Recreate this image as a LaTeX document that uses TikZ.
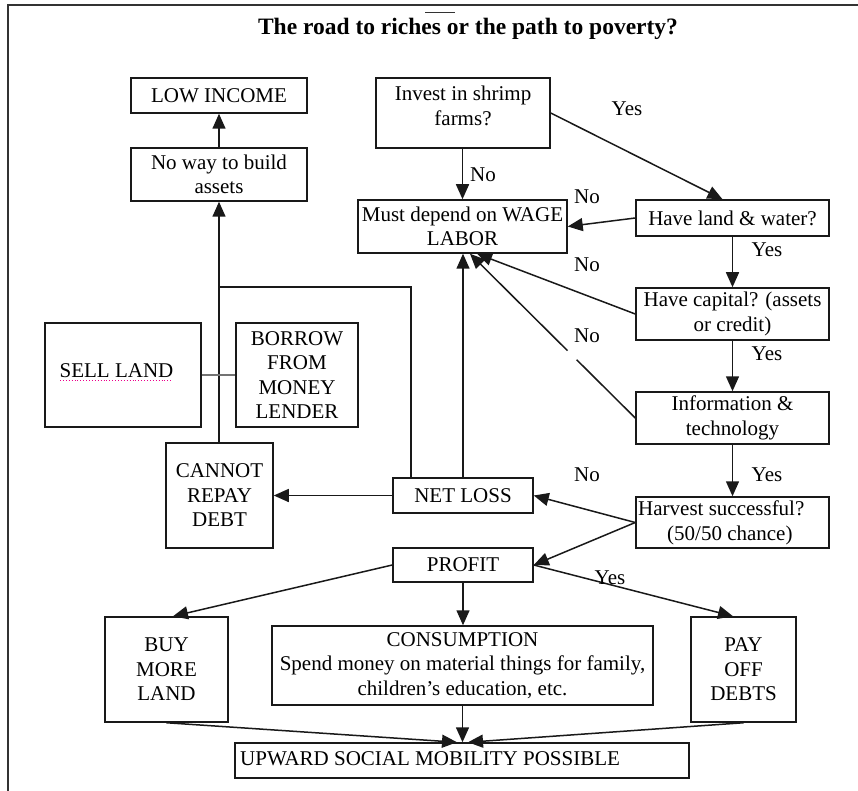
\documentclass[tikz,border=0pt]{standalone}
\usepackage{fontspec}
\setmainfont{Liberation Serif}
\usetikzlibrary{arrows.meta,calc}
\begin{document}
\begin{tikzpicture}[x=1pt,y=-1pt,
  every node/.style={font=\fontsize{21}{24.5}\selectfont, inner sep=0pt},
  box/.style={draw=black!90, line width=1.5pt, align=center},
  ln/.style={line width=1.5pt, draw=black!90},
  arr/.style={ln, -{Triangle[length=15pt,width=13pt]}}]

\useasboundingbox (0,0) rectangle (858,791);
\fill[white] (0,0) rectangle (858,791);

% outer frame (open at right and bottom)
\draw[line width=1.4pt, black!80] (8,791) -- (8,5);
\draw[line width=2pt, black!80] (7.3,5) -- (858,5);

% title
\node[anchor=base, font=\fontsize{23.5}{26}\selectfont\bfseries] (title) at (468,35)
  {The road to riches or the path to poverty?};
\draw[line width=1pt, black!80] (425,13) -- (455,13);

% boxes
\node[box, minimum width=176pt, minimum height=35pt] (low) at (219,95.5) {LOW INCOME};
\node[box, minimum width=176pt, minimum height=53pt] (noway) at (219,174.5) {No way to build\\assets};
\node[box, minimum width=174pt, minimum height=70pt] (invest) at (463,113) {};
\node[align=center] (investtxt) at (463,106) {Invest in shrimp\\farms?};
\node[box, minimum width=209pt, minimum height=53pt] (wage) at (462.5,226.5) {Must depend on WAGE\\LABOR};
\node[box, minimum width=193pt, minimum height=36pt] (land) at (732.5,218) {Have land \& water?};
\node[box, minimum width=193pt, minimum height=52pt] (capital) at (732.5,314) {Have capital? (assets\\or credit)};
\node[box, minimum width=193pt, minimum height=52pt] (info) at (732.5,418) {Information \&\\technology};
\node[box, minimum width=193pt, minimum height=51pt] (harvest) at (732.5,522.5) {};
\node[align=left, anchor=north west] (harvesttxt) at (638,501)
  {Harvest successful?\\\hspace*{29pt}(50/50 chance)};
\node[box, minimum width=156pt, minimum height=104pt] (sell) at (123,375) {};
\node[anchor=base] (selltxt) at (116.5,377) {SELL LAND};
\draw[magenta, line width=0.9pt, dotted] (60,380) -- (173,380);
\node[box, minimum width=122pt, minimum height=104pt] (borrow) at (297,375) {BORROW\\FROM\\MONEY\\LENDER};
\node[box, minimum width=107pt, minimum height=105pt] (cannot) at (219.5,495.5) {CANNOT\\REPAY\\DEBT};
\node[box, minimum width=140pt, minimum height=35pt] (netloss) at (463,495.5) {NET LOSS};
\node[box, minimum width=140pt, minimum height=34pt] (profit) at (463,565) {PROFIT};
\node[box, minimum width=123pt, minimum height=105pt] (buy) at (166.5,669.5) {BUY\\MORE\\LAND};
\node[box, minimum width=381pt, minimum height=79pt] (consum) at (462.5,665.5)
  {CONSUMPTION\\Spend money on material things for family,\\children's education, etc.};
\node[box, minimum width=105pt, minimum height=105pt] (pay) at (743.5,669.5) {PAY\\OFF\\DEBTS};
\node[box, minimum width=454pt, minimum height=35pt] (upward) at (462,760.5) {};
\node[anchor=base west] (upwardtxt) at (240,765) {UPWARD SOCIAL MOBILITY POSSIBLE};

% arrow end points on shared targets
\coordinate (wtipA) at ([xshift=14.5pt]wage.south);
\coordinate (wtipB) at ([xshift=7.5pt]wage.south);
\coordinate (utipL) at ([xshift=-5pt]upward.north);
\coordinate (utipR) at ([xshift=6pt]upward.north);
\coordinate (jR) at (411,287);
\coordinate (jL) at (219,287);

% left loop
\draw[arr] (noway.north) -- (low.south);
\draw[arr] (cannot.north -| noway.south) -- (noway.south);
\draw[ln] (netloss.north -| jR) -- (jR) -- (jL);
\draw[ln, black!55, line width=2pt] (sell.east) -- (borrow.west);
\draw[arr] (netloss.west) -- (cannot.east);
\draw[arr] (netloss.north) -- (netloss.north |- wage.south);

% decision chain
\draw[arr] (invest.south -| wage.north) -- (wage.north);
\node (no1) at (483,175) {No};
\draw[arr] (invest.east) -- ([xshift=-10pt]land.north);
\node (yes1) at (627,109) {Yes};
\draw[arr] (land.west) -- (wage.east);
\node (no2) at (587,197) {No};
\draw[arr] (land.south) -- (capital.north);
\node (yes2) at (767,250) {Yes};
\draw[arr] (capital.west) -- (wtipA);
\node (no3) at (587,265) {No};
\draw[arr] (capital.south) -- (info.north);
\node (yes3) at (767,354) {Yes};
\draw[ln] (info.west) -- ($(info.west)!0.355!(wtipB)$);
\draw[arr] ($(info.west)!0.41!(wtipB)$) -- (wtipB);
\node (no4) at (587,336) {No};
\draw[arr] (info.south) -- (harvest.north);
\node (yes4) at (767,475) {Yes};
\draw[arr] (harvest.west) -- (netloss.east);
\node (no5) at (587,475) {No};
\draw[arr] (harvest.west) -- (profit.east);

% profit branches
\draw[arr] (profit.west) -- ([xshift=6.5pt]buy.north);
\draw[arr] (profit.south) -- (profit.south |- consum.north);
\draw[arr] (profit.east) -- ([xshift=-10.5pt]pay.north);
\node (yes5) at (610,578) {Yes};
\draw[arr] (buy.south) -- (utipL);
\draw[arr] (consum.south) -- (consum.south |- upward.north);
\draw[arr] (pay.south) -- (utipR);
\end{tikzpicture}
\end{document}
